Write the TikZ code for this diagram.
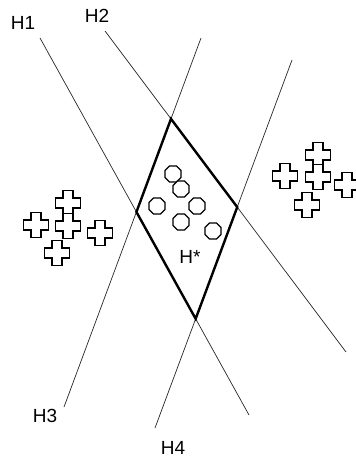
\documentclass[tikz,border=0pt]{standalone}
\usepackage{fontspec}
\setmainfont{Liberation Sans}
\usetikzlibrary{shapes.geometric}

\tikzset{
  hyper/.style={line width=0.7pt, black!85},
  region/.style={line width=2.4pt, line join=miter},
  octa/.style={draw, regular polygon, regular polygon sides=8, minimum size=17.5pt, inner sep=0pt, line width=1.3pt, fill=white},
  lbl/.style={font=\fontsize{19}{21}\selectfont, inner sep=0pt},
  posmark/.pic={
    \draw[line width=1.5pt, fill=white]
      (-4.8,-12.3) -- (4.8,-12.3) -- (4.8,-4.8) -- (12.3,-4.8) -- (12.3,4.8) -- (4.8,4.8)
      -- (4.8,12.3) -- (-4.8,12.3) -- (-4.8,4.8) -- (-12.3,4.8) -- (-12.3,-4.8) -- (-4.8,-4.8) -- cycle;
  }
}

\begin{document}
\begin{tikzpicture}[x=1pt, y=-1pt]
\clip (0,0) rectangle (356,458);
\useasboundingbox (0,0) rectangle (356,458);

% ends of the four lines
\coordinate (h1a) at (40,38);   \coordinate (h1b) at (249,415);
\coordinate (h2a) at (105,31);  \coordinate (h2b) at (346,352);
\coordinate (h3a) at (201,38);  \coordinate (h3b) at (64,407);
\coordinate (h4a) at (292,60);  \coordinate (h4b) at (155,428);

\draw[hyper] (h1a) -- (h1b);
\draw[hyper] (h2a) -- (h2b);
\draw[hyper] (h3a) -- (h3b);
\draw[hyper] (h4a) -- (h4b);

% corners of the region
\coordinate (top) at (intersection of h2a--h2b and h3a--h3b);
\coordinate (rgt) at (intersection of h2a--h2b and h4a--h4b);
\coordinate (bot) at (intersection of h1a--h1b and h4a--h4b);
\coordinate (lft) at (intersection of h1a--h1b and h3a--h3b);

\draw[region] (top) -- (rgt) -- (bot) -- (lft) -- cycle;

\node[lbl] (l1) at (23,23) {H1};
\node[lbl] (l2) at (97,16) {H2};
\node[lbl] (l3) at (45,416) {H3};
\node[lbl] (l4) at (173,448) {H4};
\node[lbl] (ls) at (190,257) {H*};

% samples inside
\node[octa] (o1) at (173,174) {};
\node[octa] (o2) at (181,189) {};
\node[octa] (o3) at (157,206) {};
\node[octa] (o4) at (197,206) {};
\node[octa] (o5) at (181,222) {};
\node[octa] (o6) at (213,231) {};

% samples outside
\pic at (68,203) {posmark};
\pic at (36,225) {posmark};
\pic at (68,226) {posmark};
\pic at (100,233) {posmark};
\pic at (57,253) {posmark};

\pic at (318,155) {posmark};
\pic at (285,176) {posmark};
\pic at (318,177) {posmark};
\pic at (347,185) {posmark};
\pic at (307,205) {posmark};
\end{tikzpicture}
\end{document}
